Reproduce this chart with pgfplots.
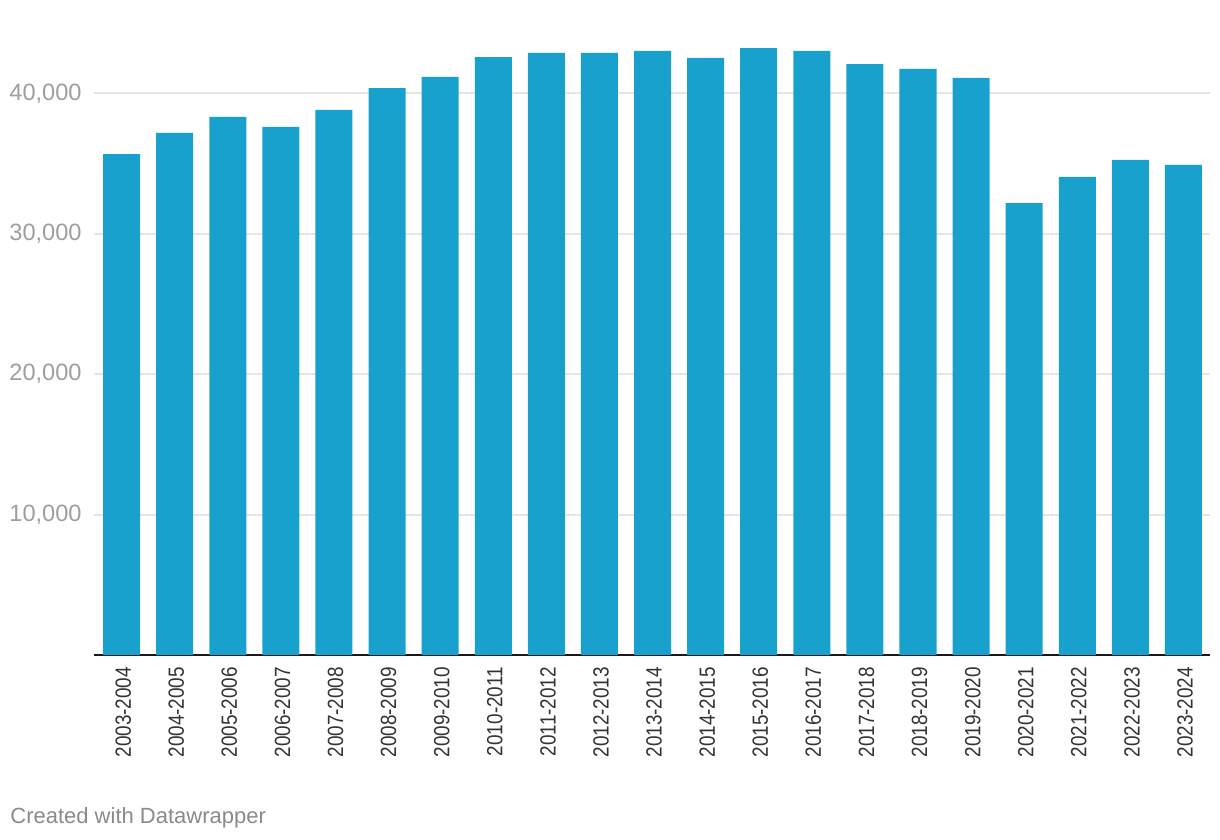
\documentclass[border=0pt]{standalone}
\usepackage{pgfplots}
\pgfplotsset{compat=1.18}
\usepackage{fontspec}
\setmainfont{Liberation Sans}
\newfontfamily\narrowfont[FakeStretch=0.86]{Liberation Sans}
\definecolor{barblue}{HTML}{18A1CD}
\definecolor{gridgray}{HTML}{E5E5E5}
\definecolor{ylab}{HTML}{9E9E9E}
\definecolor{xlab}{HTML}{333333}
\definecolor{credit}{HTML}{8A8A8A}

\begin{document}
\begin{tikzpicture}
\useasboundingbox (0,0) rectangle (610pt,420pt);
\begin{axis}[
    at={(47pt,92.5pt)}, anchor=south west,
    scale only axis, width=558pt, height=312.4pt,
    ybar, bar width=18.5pt,
    xmin=-0.52, xmax=20.5, ymin=0, ymax=44500,
    axis x line*=bottom, axis y line*=left,
    y axis line style={draw=none},
    x axis line style={color=black!90, line width=1pt},
    major tick length=0pt,
    xtick={0,...,20},
    xticklabels={2003-2004,2004-2005,2005-2006,2006-2007,2007-2008,2008-2009,2009-2010,2010-2011,2011-2012,2012-2013,2013-2014,2014-2015,2015-2016,2016-2017,2017-2018,2018-2019,2019-2020,2020-2021,2021-2022,2022-2023,2023-2024},
    xticklabel style={font=\narrowfont\fontsize{11}{13}\selectfont, text=xlab, yshift=-5.8pt, xshift=0.8pt, rotate=90, anchor=east, inner sep=0pt},
    ytick={10000,20000,30000,40000},
    scaled y ticks=false,
    yticklabel style={font=\fontsize{11.8}{14}\selectfont, text=ylab, anchor=east, inner sep=0pt, xshift=-6pt,
        /pgf/number format/1000 sep={,}, /pgf/number format/assume math mode=true},
    ymajorgrids, grid style={color=gridgray, line width=1pt},
]
\addplot[fill=barblue, draw=none] coordinates {
(0,35680) (1,37180) (2,38320) (3,37610) (4,38820) (5,40380) (6,41170)
(7,42590) (8,42880) (9,42880) (10,43020) (11,42520) (12,43230) (13,43020)
(14,42090) (15,41740) (16,41100) (17,32190) (18,34050) (19,35260) (20,34900)
};
\end{axis}
\node[anchor=base west, inner sep=0pt, text=credit, font=\fontsize{11}{13}\selectfont] at (5pt,8.5pt) {Created with Datawrapper};
\end{tikzpicture}
\end{document}
